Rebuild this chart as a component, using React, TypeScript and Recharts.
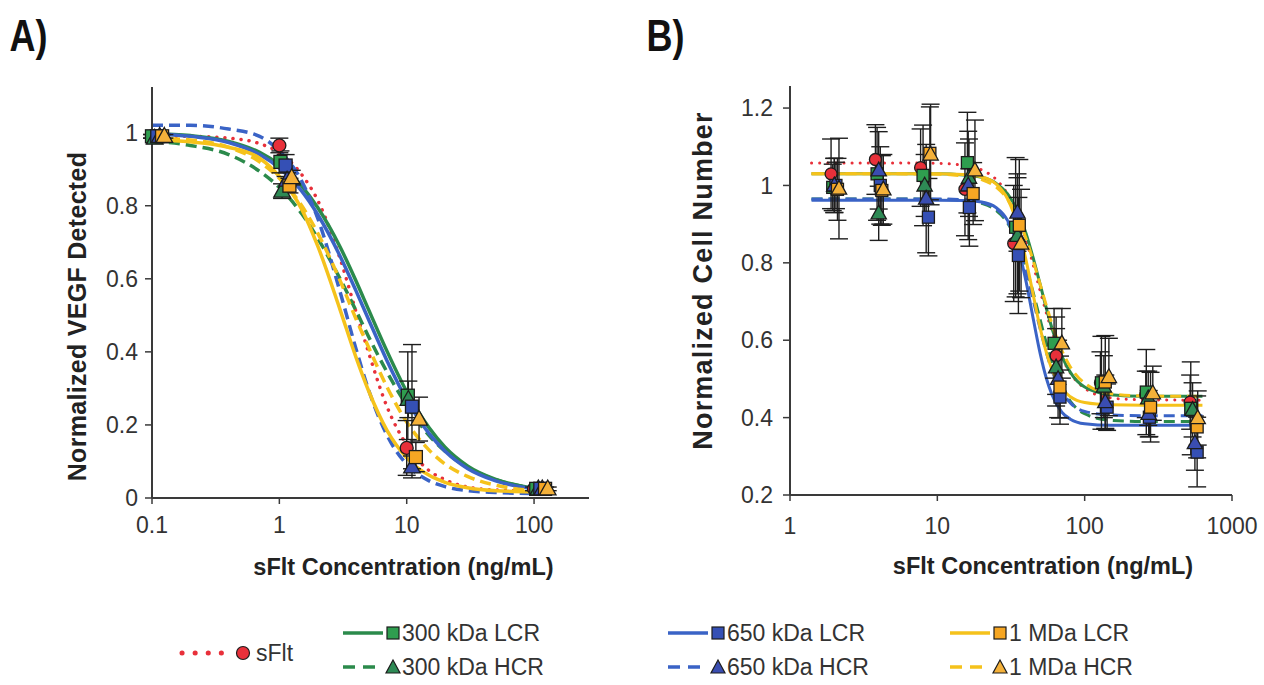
import React from 'react';
import { ComposedChart, Line, Scatter, XAxis, YAxis, ErrorBar, Label } from 'recharts';

// ---------------- Panel A : VEGF detected ----------------
const A_CURVE_X = [0.1, 0.2, 0.4, 0.7, 1, 1.5, 2, 3, 4, 5, 7, 10, 15, 20, 30, 50, 100];
const A_SFLT_FIT = [0.99, 0.99, 0.985, 0.97, 0.945, 0.885, 0.815, 0.655, 0.51, 0.4, 0.25, 0.145, 0.075, 0.05, 0.03, 0.022, 0.02];
const A_300LCR_FIT = [0.998, 0.992, 0.976, 0.946, 0.912, 0.854, 0.795, 0.687, 0.594, 0.517, 0.402, 0.291, 0.192, 0.139, 0.088, 0.051, 0.027];
const A_300HCR_FIT = [0.977, 0.965, 0.94, 0.894, 0.85, 0.778, 0.711, 0.6, 0.513, 0.443, 0.345, 0.254, 0.171, 0.128, 0.084, 0.05, 0.027];
const A_650LCR_FIT = [0.998, 0.99, 0.973, 0.94, 0.903, 0.84, 0.776, 0.662, 0.567, 0.49, 0.376, 0.269, 0.176, 0.128, 0.081, 0.047, 0.025];
const A_650HCR_FIT = [1.02, 1.02, 1.01, 0.99, 0.95, 0.867, 0.766, 0.564, 0.408, 0.298, 0.172, 0.092, 0.047, 0.031, 0.02, 0.015, 0.012];
const A_1MLCR_FIT = [0.98, 0.975, 0.96, 0.93, 0.88, 0.79, 0.69, 0.515, 0.385, 0.295, 0.185, 0.11, 0.062, 0.043, 0.028, 0.02, 0.017];
const A_1MHCR_FIT = [0.985, 0.98, 0.96, 0.92, 0.875, 0.8, 0.725, 0.595, 0.49, 0.414, 0.304, 0.208, 0.131, 0.093, 0.059, 0.035, 0.02];

const A_SFLT_X = [0.1, 1.0, 10, 100];
const A_SFLT_Y = [0.99, 0.965, 0.137, 0.025];
const A_SFLT_E = [0.005, 0.02, 0.075, 0.005];
const A_300LCR_X = [0.1, 1.02, 10.2, 104];
const A_300LCR_Y = [0.99, 0.92, 0.28, 0.025];
const A_300LCR_E = [0.005, 0.03, 0.12, 0.005];
const A_300HCR_X = [0.105, 1.05, 10.3, 108];
const A_300HCR_Y = [0.985, 0.84, 0.27, 0.025];
const A_300HCR_E = [0.005, 0.02, 0.05, 0.005];
const A_650LCR_X = [0.11, 1.12, 11, 112];
const A_650LCR_Y = [0.99, 0.91, 0.25, 0.025];
const A_650LCR_E = [0.005, 0.03, 0.17, 0.005];
const A_650HCR_X = [0.115, 1.15, 11, 116];
const A_650HCR_Y = [0.99, 0.87, 0.085, 0.025];
const A_650HCR_E = [0.005, 0.02, 0.03, 0.005];
const A_1MLCR_X = [0.12, 1.2, 11.8, 122];
const A_1MLCR_Y = [0.99, 0.855, 0.112, 0.025];
const A_1MLCR_E = [0.005, 0.02, 0.04, 0.005];
const A_1MHCR_X = [0.125, 1.25, 12.5, 128];
const A_1MHCR_Y = [0.99, 0.877, 0.216, 0.025];
const A_1MHCR_E = [0.005, 0.02, 0.06, 0.005];

const A_X_TICKS = [0.1, 1, 10, 100];
const A_Y_TICKS = [0, 0.2, 0.4, 0.6, 0.8, 1];

// ---------------- Panel B : cell number ----------------
const B_CURVE_X = [1.4, 5, 10, 15, 20, 25, 30, 35, 40, 45, 50, 55, 60, 70, 80, 100, 150, 250, 630];
const B_SFLT_FIT = [1.058, 1.058, 1.057, 1.052, 1.04, 1.016, 0.977, 0.923, 0.859, 0.791, 0.726, 0.67, 0.623, 0.556, 0.515, 0.476, 0.451, 0.446, 0.445];
const B_300LCR_FIT = [1.03, 1.03, 1.03, 1.027, 1.021, 1.006, 0.978, 0.934, 0.876, 0.809, 0.743, 0.682, 0.631, 0.559, 0.517, 0.479, 0.459, 0.455, 0.455];
const B_300HCR_FIT = [0.965, 0.965, 0.964, 0.962, 0.954, 0.936, 0.903, 0.853, 0.789, 0.719, 0.651, 0.592, 0.544, 0.479, 0.442, 0.41, 0.393, 0.39, 0.39];
const B_650LCR_FIT = [0.962, 0.962, 0.962, 0.961, 0.957, 0.943, 0.909, 0.844, 0.752, 0.651, 0.564, 0.501, 0.459, 0.414, 0.396, 0.384, 0.38, 0.38, 0.38];
const B_650HCR_FIT = [0.965, 0.965, 0.965, 0.963, 0.956, 0.94, 0.906, 0.852, 0.779, 0.7, 0.628, 0.568, 0.522, 0.467, 0.438, 0.416, 0.407, 0.405, 0.405];
const B_1MLCR_FIT = [1.03, 1.03, 1.03, 1.028, 1.022, 1.004, 0.965, 0.898, 0.807, 0.713, 0.63, 0.568, 0.524, 0.475, 0.454, 0.439, 0.433, 0.432, 0.432];
const B_1MHCR_FIT = [1.03, 1.03, 1.029, 1.024, 1.015, 0.996, 0.964, 0.919, 0.863, 0.802, 0.743, 0.689, 0.642, 0.574, 0.531, 0.489, 0.462, 0.456, 0.455];

const B_SFLT_X = [1.9, 3.8, 7.7, 15.4, 33, 64, 128, 260, 520];
const B_SFLT_Y = [1.03, 1.067, 1.046, 0.99, 0.85, 0.56, 0.49, 0.46, 0.44];
const B_SFLT_E = [0.09, 0.09, 0.1, 0.12, 0.15, 0.1, 0.08, 0.06, 0.07];
const B_300LCR_X = [1.95, 3.9, 8.0, 16, 34, 62, 130, 262, 525];
const B_300LCR_Y = [0.995, 1.03, 1.026, 1.059, 0.892, 0.592, 0.49, 0.466, 0.424];
const B_300LCR_E = [0.06, 0.12, 0.13, 0.13, 0.18, 0.09, 0.12, 0.11, 0.12];
const B_300HCR_X = [2.0, 4.0, 8.2, 16.4, 35, 64, 135, 270, 540];
const B_300HCR_Y = [1.0, 0.928, 1.0, 1.02, 0.87, 0.53, 0.48, 0.45, 0.42];
const B_300HCR_E = [0.07, 0.07, 0.08, 0.1, 0.15, 0.1, 0.08, 0.07, 0.07];
const B_650LCR_X = [2.05, 4.1, 8.7, 16.5, 35.5, 68, 142, 275, 580];
const B_650LCR_Y = [1.0, 1.0, 0.918, 0.943, 0.819, 0.453, 0.427, 0.401, 0.311];
const B_650LCR_E = [0.06, 0.1, 0.1, 0.1, 0.15, 0.07, 0.06, 0.05, 0.09];
const B_650HCR_X = [2.0, 4.0, 8.4, 16.2, 35, 66, 138, 272, 560];
const B_650HCR_Y = [1.0, 1.039, 0.966, 1.0, 0.93, 0.5, 0.44, 0.41, 0.334];
const B_650HCR_E = [0.07, 0.1, 0.14, 0.14, 0.1, 0.1, 0.07, 0.06, 0.07];
const B_1MLCR_X = [2.1, 4.2, 8.9, 17.5, 36, 68, 138, 280, 580];
const B_1MLCR_Y = [0.99, 0.987, 1.083, 0.979, 0.897, 0.479, 0.492, 0.427, 0.376];
const B_1MLCR_E = [0.08, 0.09, 0.12, 0.08, 0.17, 0.08, 0.12, 0.09, 0.08];
const B_1MHCR_X = [2.15, 4.3, 9.0, 18, 37, 70, 146, 290, 585];
const B_1MHCR_Y = [0.992, 0.99, 1.08, 1.039, 0.85, 0.592, 0.505, 0.463, 0.399];
const B_1MHCR_E = [0.13, 0.09, 0.13, 0.13, 0.14, 0.09, 0.1, 0.07, 0.07];

const B_X_TICKS = [1, 10, 100, 1000];
const B_Y_TICKS = [0.2, 0.4, 0.6, 0.8, 1, 1.2];

// ---------------- styling ----------------
const RED = '#e8303a';
const GREEN = '#2b8a4b';
const BLUE = '#3a63c6';
const YELLOW = '#f5c21b';
const GREEN_SQ = '#2f9e4f';
const GREEN_TRI = '#2e8a55';
const BLUE_SQ = '#3550b5';
const BLUE_TRI = '#3a4db0';
const ORANGE_SQ = '#f6a623';
const ORANGE_TRI = '#f4b13a';
const EDGE = '#1c1c1c';
const AXIS = '#3a3a3a';
const FONT = 'Liberation Sans, Arial, sans-serif';

const zipCurve = (xs: number[], ys: number[]) => xs.map((x, i) => ({ x, y: ys[i] }));
const zipPts = (xs: number[], ys: number[], es: number[]) => xs.map((x, i) => ({ x, y: ys[i], e: es[i] }));

type Kind = 'circle' | 'square' | 'triangle';
const makeShape = (kind: Kind, fill: string, size: number) => (props: any) => {
  const { cx, cy } = props;
  if (cx == null || cy == null || isNaN(cx) || isNaN(cy)) return <g />;
  const h = size / 2;
  if (kind === 'circle') return <circle cx={cx} cy={cy} r={h} fill={fill} stroke={EDGE} strokeWidth={1.3} />;
  if (kind === 'square') return <rect x={cx - h} y={cy - h} width={size} height={size} fill={fill} stroke={EDGE} strokeWidth={1.3} />;
  const t = size * 1.1;
  return (
    <polygon
      points={`${cx},${cy - t * 0.62} ${cx + t * 0.58},${cy + t * 0.42} ${cx - t * 0.58},${cy + t * 0.42}`}
      fill={fill}
      stroke={EDGE}
      strokeWidth={1.3}
    />
  );
};

type Series = { name: string; color: string; dash?: string; kind: Kind; fill: string; fit: number[]; x: number[]; y: number[]; e: number[] };

const A_SERIES: Series[] = [
  { name: 'sFlt', color: RED, dash: 'dot', kind: 'circle', fill: RED, fit: A_SFLT_FIT, x: A_SFLT_X, y: A_SFLT_Y, e: A_SFLT_E },
  { name: '300 kDa LCR', color: GREEN, kind: 'square', fill: GREEN_SQ, fit: A_300LCR_FIT, x: A_300LCR_X, y: A_300LCR_Y, e: A_300LCR_E },
  { name: '300 kDa HCR', color: GREEN, dash: 'dash', kind: 'triangle', fill: GREEN_TRI, fit: A_300HCR_FIT, x: A_300HCR_X, y: A_300HCR_Y, e: A_300HCR_E },
  { name: '650 kDa LCR', color: BLUE, kind: 'square', fill: BLUE_SQ, fit: A_650LCR_FIT, x: A_650LCR_X, y: A_650LCR_Y, e: A_650LCR_E },
  { name: '650 kDa HCR', color: BLUE, dash: 'dash', kind: 'triangle', fill: BLUE_TRI, fit: A_650HCR_FIT, x: A_650HCR_X, y: A_650HCR_Y, e: A_650HCR_E },
  { name: '1 MDa LCR', color: YELLOW, kind: 'square', fill: ORANGE_SQ, fit: A_1MLCR_FIT, x: A_1MLCR_X, y: A_1MLCR_Y, e: A_1MLCR_E },
  { name: '1 MDa HCR', color: YELLOW, dash: 'dash', kind: 'triangle', fill: ORANGE_TRI, fit: A_1MHCR_FIT, x: A_1MHCR_X, y: A_1MHCR_Y, e: A_1MHCR_E },
];

const B_SERIES: Series[] = [
  { name: 'sFlt', color: RED, dash: 'dot', kind: 'circle', fill: RED, fit: B_SFLT_FIT, x: B_SFLT_X, y: B_SFLT_Y, e: B_SFLT_E },
  { name: '300 kDa LCR', color: GREEN, kind: 'square', fill: GREEN_SQ, fit: B_300LCR_FIT, x: B_300LCR_X, y: B_300LCR_Y, e: B_300LCR_E },
  { name: '300 kDa HCR', color: GREEN, dash: 'dash', kind: 'triangle', fill: GREEN_TRI, fit: B_300HCR_FIT, x: B_300HCR_X, y: B_300HCR_Y, e: B_300HCR_E },
  { name: '650 kDa LCR', color: BLUE, kind: 'square', fill: BLUE_SQ, fit: B_650LCR_FIT, x: B_650LCR_X, y: B_650LCR_Y, e: B_650LCR_E },
  { name: '650 kDa HCR', color: BLUE, dash: 'dash', kind: 'triangle', fill: BLUE_TRI, fit: B_650HCR_FIT, x: B_650HCR_X, y: B_650HCR_Y, e: B_650HCR_E },
  { name: '1 MDa LCR', color: YELLOW, kind: 'square', fill: ORANGE_SQ, fit: B_1MLCR_FIT, x: B_1MLCR_X, y: B_1MLCR_Y, e: B_1MLCR_E },
  { name: '1 MDa HCR', color: YELLOW, dash: 'dash', kind: 'triangle', fill: ORANGE_TRI, fit: B_1MHCR_FIT, x: B_1MHCR_X, y: B_1MHCR_Y, e: B_1MHCR_E },
];

const fmt = (v: number) => String(v);

const tickStyle = { fontFamily: FONT, fontSize: 23, fill: '#333' };

const xTitle = (text: string, dx: number, dy: number) => (props: any) => {
  const vb = props.viewBox || {};
  return (
    <text x={vb.x + vb.width / 2 + dx} y={vb.y + dy} textAnchor="middle" fontFamily={FONT} fontWeight="bold" fontSize={23.5} fill="#222">
      {text}
    </text>
  );
};
const yTitle = (text: string, dx: number, dy: number, size: number, ls: number) => (props: any) => {
  const vb = props.viewBox || {};
  const cx = vb.x + dx;
  const cy = vb.y + vb.height / 2 + dy;
  return (
    <text transform={`translate(${cx},${cy}) rotate(-90)`} textAnchor="middle" fontFamily={FONT} fontWeight="bold" fontSize={size} letterSpacing={ls} fill="#222">
      {text}
    </text>
  );
};

function Panel(props: {
  series: Series[]; curveX: number[]; xDomain: [number, number]; yDomain: [number, number];
  xTicks: number[]; yTicks: number[]; margin: any; width: number; xTitleEl: any; yTitleEl: any;
  lineW: number; markSize: number; xTickMargin: number; yTickMargin: number;
}) {
  const { series, curveX } = props;
  return (
    <ComposedChart width={props.width} height={600} margin={props.margin}>
      <XAxis
        dataKey="x" type="number" scale="log" domain={props.xDomain} ticks={props.xTicks} tickFormatter={fmt}
        axisLine={{ stroke: AXIS, strokeWidth: 2 }} tickLine={{ stroke: AXIS, strokeWidth: 1.5 }} tickSize={6}
        tickMargin={props.xTickMargin} tick={tickStyle} height={40} interval={0}
      >
        <Label content={props.xTitleEl} />
      </XAxis>
      <YAxis
        dataKey="y" type="number" domain={props.yDomain} ticks={props.yTicks} tickFormatter={fmt}
        axisLine={{ stroke: AXIS, strokeWidth: 2 }} tickLine={{ stroke: AXIS, strokeWidth: 1.5 }} tickSize={7}
        tickMargin={props.yTickMargin} tick={tickStyle} width={60} interval={0}
      >
        <Label content={props.yTitleEl} />
      </YAxis>
      <XAxis xAxisId="top" orientation="top" type="number" domain={[0, 1]} tick={false} tickLine={false} height={0} axisLine={{ stroke: AXIS, strokeWidth: 1.5 }} />
      <YAxis yAxisId="right" orientation="right" type="number" domain={[0, 1]} tick={false} tickLine={false} width={0} axisLine={{ stroke: AXIS, strokeWidth: 1.5 }} />
      {series.map((s) => (
        <Line
          key={'fit-' + s.name}
          data={zipCurve(curveX, s.fit)}
          dataKey="y"
          type="monotone"
          stroke={s.color}
          strokeWidth={props.lineW}
          strokeDasharray={s.dash === 'dot' ? '0.1 8' : s.dash === 'dash' ? '11 6' : undefined}
          strokeLinecap={s.dash === 'dot' ? 'round' : 'butt'}
          dot={false}
          activeDot={false}
          isAnimationActive={false}
        />
      ))}
      {series.map((s) => (
        <Scatter
          key={'pts-' + s.name}
          data={zipPts(s.x, s.y, s.e)}
          dataKey="y"
          shape={makeShape(s.kind, s.fill, props.markSize)}
          isAnimationActive={false}
        >
          <ErrorBar dataKey="e" direction="y" width={9} stroke="#1e1e1e" strokeWidth={1.4} />
        </Scatter>
      ))}
    </ComposedChart>
  );
}

function LegendSvg() {
  const txt = { fontFamily: FONT, fontSize: 23, fill: '#333' } as any;
  const sq = (cx: number, cy: number, fill: string) => <rect x={cx - 6} y={cy - 6} width={12} height={12} fill={fill} stroke={EDGE} strokeWidth={1.2} />;
  const tri = (cx: number, cy: number, fill: string) => (
    <polygon points={`${cx},${cy - 7} ${cx + 7},${cy + 6} ${cx - 7},${cy + 6}`} fill={fill} stroke={EDGE} strokeWidth={1.2} />
  );
  const rowA = 633;
  const rowB = 667;
  const groups = [
    { x0: 343, lcr: '300 kDa LCR', hcr: '300 kDa HCR', c: GREEN, s: GREEN_SQ, t: GREEN_TRI },
    { x0: 668, lcr: '650 kDa LCR', hcr: '650 kDa HCR', c: BLUE, s: BLUE_SQ, t: BLUE_TRI },
    { x0: 950, lcr: '1 MDa LCR', hcr: '1 MDa HCR', c: YELLOW, s: ORANGE_SQ, t: ORANGE_TRI },
  ];
  return (
    <svg width={1264} height={685} style={{ position: 'absolute', left: 0, top: 0, pointerEvents: 'none' }}>
      <text x={12} y={51} fontFamily={FONT} fontWeight="bold" fontSize={45} fill="#111" transform="scale(0.8,1)">A)</text>
      <text x={808} y={51} fontFamily={FONT} fontWeight="bold" fontSize={45} fill="#111" transform="scale(0.8,1)">B)</text>
      <line x1={182} y1={653} x2={224} y2={653} stroke={RED} strokeWidth={5} strokeDasharray="0.1 13" strokeLinecap="round" />
      <circle cx={243} cy={653} r={6.5} fill={RED} stroke={EDGE} strokeWidth={1.2} />
      <text x={256} y={661} {...txt}>sFlt</text>
      {groups.map((g) => (
        <g key={g.lcr}>
          <line x1={g.x0} y1={rowA} x2={g.x0 + 40} y2={rowA} stroke={g.c} strokeWidth={3.5} />
          {sq(g.x0 + 50, rowA, g.s)}
          <text x={g.x0 + 59} y={rowA + 8} {...txt}>{g.lcr}</text>
          <line x1={g.x0} y1={rowB} x2={g.x0 + 40} y2={rowB} stroke={g.c} strokeWidth={3.5} strokeDasharray="12 8" />
          {tri(g.x0 + 50, rowB, g.t)}
          <text x={g.x0 + 59} y={rowB + 8} {...txt}>{g.hcr}</text>
        </g>
      ))}
    </svg>
  );
}

export default function App() {
  return (
    <div style={{ position: 'absolute', left: 0, top: 0, width: 1264, height: 685, background: '#fff', overflow: 'hidden' }}>
      <div style={{ position: 'absolute', left: 0, top: 0 }}>
        <Panel
          series={A_SERIES} curveX={A_CURVE_X} xDomain={[0.1, 270]} yDomain={[0, 1.125]}
          xTicks={A_X_TICKS} yTicks={A_Y_TICKS} width={620}
          margin={{ top: 87, right: 31, bottom: 62, left: 92 }}
          xTitleEl={xTitle('sFlt Concentration (ng/mL)', 33, 77)}
          yTitleEl={yTitle('Normalized VEGF Detected', -6, 24, 25, 0.3)}
          lineW={3.5} markSize={13} xTickMargin={13} yTickMargin={7}
        />
      </div>
      <div style={{ position: 'absolute', left: 640, top: 0 }}>
        <Panel
          series={B_SERIES} curveX={B_CURVE_X} xDomain={[1, 1000]} yDomain={[0.2, 1.257]}
          xTicks={B_X_TICKS} yTicks={B_Y_TICKS} width={624}
          margin={{ top: 86, right: 32, bottom: 65, left: 90 }}
          xTitleEl={xTitle('sFlt Concentration (ng/mL)', 32, 79)}
          yTitleEl={yTitle('Normalized Cell Number', -18, -10, 27, 1.2)}
          lineW={3} markSize={12} xTickMargin={17} yTickMargin={10}
        />
      </div>
      <LegendSvg />
    </div>
  );
}
